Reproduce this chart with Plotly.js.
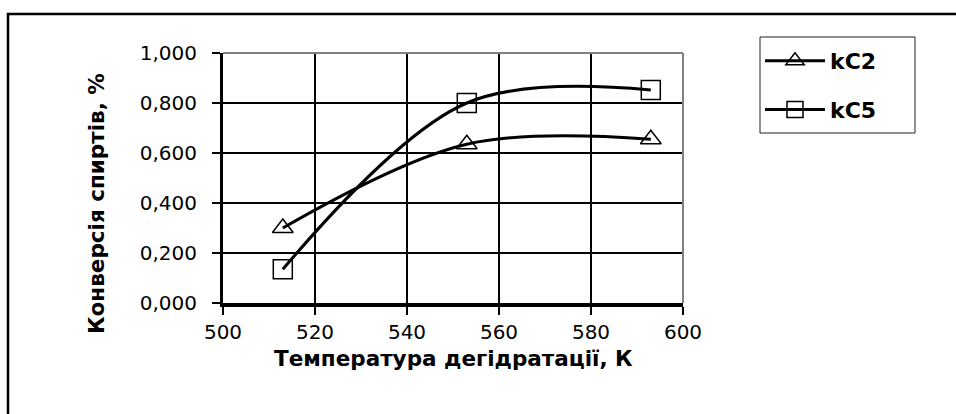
<!DOCTYPE html>
<html>
<head>
<meta charset="utf-8">
<script src="https://cdn.plot.ly/plotly-3.0.1.min.js"></script>
<style>
  html, body { margin: 0; padding: 0; background: #fff; }
  #chart { width: 956px; height: 414px; }
</style>
</head>
<body>
<div id="chart"></div>
<script>
const temperatures = [513, 553, 593];
const kC2 = [0.300, 0.635, 0.655];
const kC5 = [0.135, 0.800, 0.852];
const seriesNames = ['kC2', 'kC5'];
const xTitle = 'Температура дегідратації, К';
const yTitle = 'Конверсія спиртів, %';

const W = 956, H = 414;
const L = 223, R = 273, T = 53, B = 111;
const pw = W - L - R, ph = H - T - B;
const px = v => (v - L) / pw;
const py = v => (H - B - v) / ph;

const tickFont = { family: 'DejaVu Sans, Arial, sans-serif', size: 20, color: '#000' };
const boldFont = { family: 'DejaVu Sans, Arial, sans-serif', size: 21.5, color: '#000', weight: 'bold' };

const traces = [
  {
    x: temperatures, y: kC2, name: seriesNames[0], type: 'scatter', mode: 'lines+markers',
    line: { color: '#000', width: 3, shape: 'spline', smoothing: 1 },
    marker: { symbol: 'triangle-up-open', size: 18, color: '#000', line: { width: 1.5, color: '#000' } },
    cliponaxis: false, legendgroup: 'a'
  },
  {
    x: temperatures, y: kC5, name: seriesNames[1], type: 'scatter', mode: 'lines+markers',
    line: { color: '#000', width: 3, shape: 'spline', smoothing: 1 },
    marker: { symbol: 'square-open', size: 19, color: '#000', line: { width: 1.5, color: '#000' } },
    cliponaxis: false, legendgroup: 'b'
  }
];

const layout = {
  width: W, height: H,
  margin: { l: L, r: R, t: T, b: B, pad: 0 },
  paper_bgcolor: '#fff', plot_bgcolor: '#fff',
  separators: ', ',
  showlegend: true,
  legend: {
    x: px(760), y: py(40), xanchor: 'left', yanchor: 'top',
    bgcolor: 'rgba(0,0,0,0)', borderwidth: 0,
    font: { family: 'DejaVu Sans, Arial, sans-serif', size: 22, color: '#000', weight: 'bold' },
    itemwidth: 60, traceorder: 'grouped', tracegroupgap: 17
  },
  xaxis: {
    range: [500, 600], dtick: 20, tick0: 500,
    showgrid: true, gridcolor: '#000', gridwidth: 1.5,
    showline: true, linecolor: '#000', linewidth: 3.5,
    ticks: 'outside', ticklen: 8, tickwidth: 2.5, tickcolor: '#000',
    tickfont: tickFont, ticklabelstandoff: 0, zeroline: false, fixedrange: true
  },
  yaxis: {
    range: [0, 1], dtick: 0.2, tick0: 0, tickformat: '.3f',
    showgrid: true, gridcolor: '#000', gridwidth: 1.5,
    showline: true, linecolor: '#000', linewidth: 3,
    ticks: 'outside', ticklen: 8, tickwidth: 2.5, tickcolor: '#000',
    tickfont: tickFont, ticklabelstandoff: 11, zeroline: false, fixedrange: true
  },
  shapes: [
    { type: 'line', xref: 'paper', yref: 'paper', x0: 0, x1: 1, y0: 1, y1: 1, line: { color: '#808080', width: 2 }, layer: 'above' },
    { type: 'line', xref: 'paper', yref: 'paper', x0: 1, x1: 1, y0: 0, y1: 1, line: { color: '#808080', width: 2 }, layer: 'above' },
    { type: 'rect', xref: 'paper', yref: 'paper', x0: px(8), x1: px(1000), y0: py(460), y1: py(14), line: { color: '#000', width: 2.5 }, layer: 'below' },
    { type: 'rect', xref: 'paper', yref: 'paper', x0: px(760), x1: px(915), y0: py(133), y1: py(37), line: { color: '#222', width: 1 }, fillcolor: '#fff', layer: 'below' }
  ],
  annotations: [
    { text: xTitle, xref: 'paper', yref: 'paper', x: 0.5, y: py(358), xanchor: 'center', yanchor: 'middle', showarrow: false, font: boldFont },
    { text: yTitle, xref: 'paper', yref: 'paper', x: px(96), y: py(203), xanchor: 'center', yanchor: 'middle', textangle: -90, showarrow: false, font: boldFont }
  ]
};

Plotly.newPlot('chart', traces, layout, { staticPlot: true, displayModeBar: false });
</script>
</body>
</html>
